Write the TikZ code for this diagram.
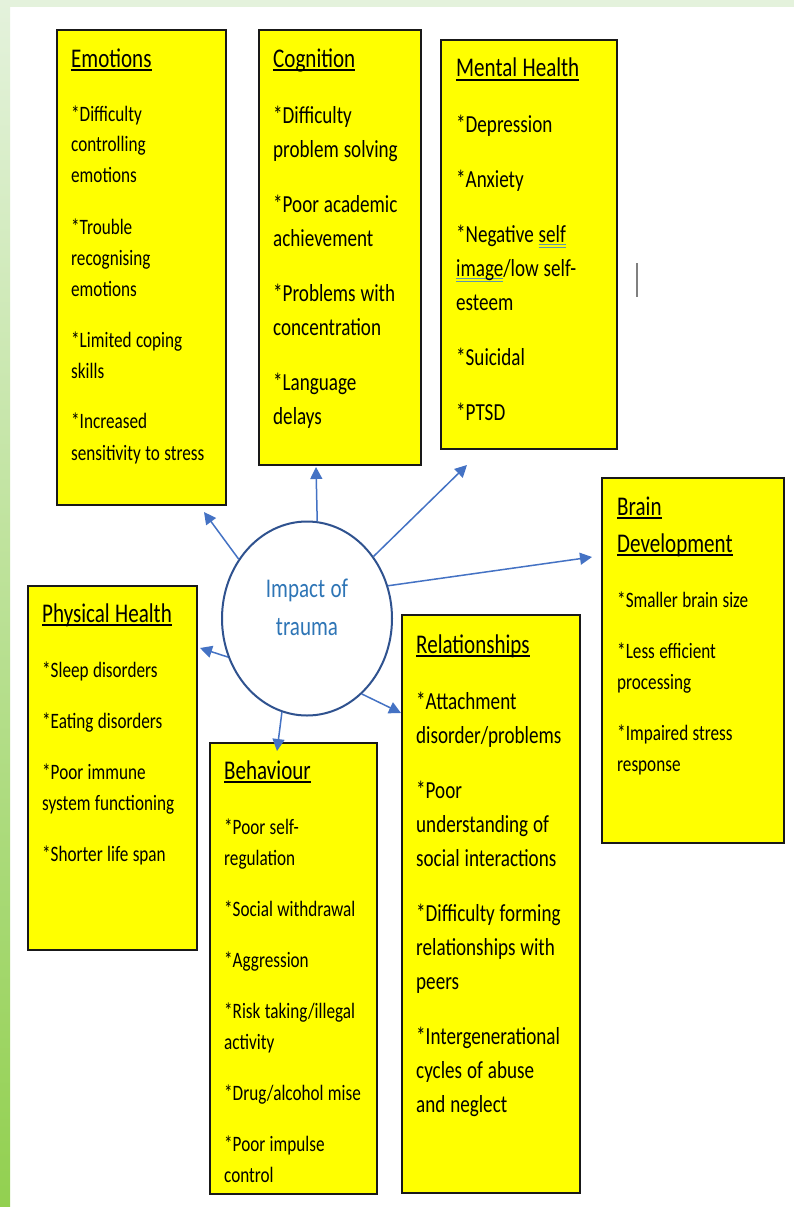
\documentclass[tikz,border=0pt]{standalone}
\usepackage{fontspec}
\setmainfont{Carlito}[FakeStretch=0.78]
\usetikzlibrary{arrows.meta,positioning,shapes.geometric}

\definecolor{boxyellow}{RGB}{255,255,0}
\definecolor{boxedge}{RGB}{25,25,25}
\definecolor{spokeblue}{RGB}{68,114,196}
\definecolor{ringblue}{RGB}{47,82,143}
\definecolor{traumablue}{RGB}{46,117,182}
\definecolor{stripTop}{RGB}{228,242,220}
\definecolor{stripBot}{RGB}{146,208,80}
\definecolor{squig}{RGB}{95,150,175}

\newcommand{\tightspace}{\spaceskip=0.2em plus 0.05em\relax}
\newcommand{\headul}[1]{\leavevmode\setbox0=\hbox{#1}\rlap{\rule[-4pt]{\wd0}{2pt}}\box0}
\newcommand{\spellmark}[1]{\leavevmode\setbox2=\hbox{#1}\rlap{\color{squig}\rule[-3pt]{\wd2}{0.9pt}}\rlap{\color{squig}\rule[-5.5pt]{\wd2}{0.9pt}}\box2}

\tikzset{
  box/.style={draw=boxedge, line width=2pt, fill=boxyellow, anchor=north west, inner sep=0pt},
  head/.style={anchor=base west, inner sep=0pt, text width=170pt, align=flush left, font=\fontsize{27}{37}\selectfont\tightspace},
  body/.style={anchor=base west, inner sep=0pt, text width=170pt, align=flush left, font=\fontsize{22}{31}\selectfont\tightspace},
  bigbody/.style={body, font=\fontsize{24.5}{34}\selectfont\tightspace},
  spoke/.style={draw=spokeblue, line width=1.5pt, -{Triangle[length=12pt,width=12pt]}},
  impact/.style={align=center, inner sep=0pt, text=traumablue, font=\fontsize{27}{38.5}\selectfont\tightspace}
}

\begin{document}
\begin{tikzpicture}[x=1pt,y=-1pt]
\useasboundingbox (0,0) rectangle (794,1207);
% page frame
\fill[white] (0,0) rectangle (794,1207);
\fill[stripTop] (0,0) rectangle (794,7);
\shade[top color=stripTop, bottom color=stripBot] (0,0) rectangle (10,1207);

% boxes
\node[box, minimum width=169pt, minimum height=475pt] (emo) at (56,29) {};
\node[box, minimum width=162pt, minimum height=435pt] (cog) at (258,29) {};
\node[box, minimum width=176pt, minimum height=409pt] (mental) at (440,39) {};
\node[box, minimum width=182pt, minimum height=365pt] (brain) at (601,477) {};
\node[box, minimum width=169pt, minimum height=364pt] (phys) at (27,585) {};
\node[box, minimum width=167pt, minimum height=451pt] (behav) at (209,742) {};
\node[box, minimum width=178pt, minimum height=578pt] (rel) at (401,614) {};

% headings
\node[head] (emo-head) at (71,67) {\headul{Emotions}};
\node[head] (cog-head) at (273,67) {\headul{Cognition}};
\node[head] (mental-head) at (456,77) {\headul{Mental Health}};
\node[head] (brain-head) at (617,515) {\headul{Brain}\\\headul{Development}};
\node[head] (phys-head) at (42,622) {\headul{Physical Health}};
\node[head] (behav-head) at (224,779) {\headul{Behaviour}};
\node[head] (rel-head) at (416,653) {\headul{Relationships}};

% lists
\node[body] (emo-txt) at (71,121) {*Difficulty\\controlling\\emotions\\[20pt]*Trouble\\recognising\\emotions\\[20pt]*Limited coping\\skills\\[20pt]*Increased\\sensitivity to stress};
\node[bigbody] (cog-txt) at (273,123) {*Difficulty\\problem solving\\[21pt]*Poor academic\\achievement\\[21pt]*Problems with\\concentration\\[21pt]*Language\\delays};
\node[bigbody] (mental-txt) at (456,132) {*Depression\\[21pt]*Anxiety\\[21pt]*Negative \spellmark{self}\\\spellmark{image}/low self-\\esteem\\[21pt]*Suicidal\\[21pt]*PTSD};
\node[body] (brain-txt) at (617,607) {*Smaller brain size\\[20pt]*Less efficient\\processing\\[20pt]*Impaired stress\\response};
\node[body] (phys-txt) at (42,677) {*Sleep disorders\\[20pt]*Eating disorders\\[20pt]*Poor immune\\system functioning\\[20pt]*Shorter life span};
\node[body] (behav-txt) at (224,834) {*Poor self-\\regulation\\[20pt]*Social withdrawal\\[20pt]*Aggression\\[20pt]*Risk taking/illegal\\activity\\[20pt]*Drug/alcohol mise\\[20pt]*Poor impulse\\control};
\node[bigbody] (rel-txt) at (416,709) {*Attachment\\disorder/problems\\[21pt]*Poor\\understanding of\\social interactions\\[21pt]*Difficulty forming\\relationships with\\peers\\[21pt]*Intergenerational\\cycles of abuse\\and neglect};

% centre
\node[ellipse, draw=ringblue, line width=2pt, fill=white, minimum width=170pt, minimum height=194pt] (trauma) at (307,618.5) {};
\node[impact] (trauma-lbl) at ([yshift=11pt]trauma.center) {Impact of\\trauma};

% arrow tips
\coordinate (emo-tip) at (204,512);
\coordinate (cog-tip) at (316,467);
\coordinate (mental-tip) at (467,465);
\coordinate (brain-tip) at (592,557);
\coordinate (phys-tip) at (200,648);
\coordinate (behav-tip) at (277,751);
\coordinate (rel-tip) at (401,713);

\draw[spoke] (trauma.139.5) -- (emo-tip);
\draw[spoke] (trauma.84.5) -- (cog-tip);
\draw[spoke] (trauma.43.5) -- (mental-tip);
\draw[spoke] (trauma.22) -- (brain-tip);
\draw[spoke] (trauma.206.5) -- (phys-tip);
\draw[spoke] (trauma.255.5) -- (behav-tip);
\draw[spoke] (trauma.306) -- (rel-tip);

% stray cursor mark
\draw[gray, line width=1.3pt] (637,263) -- (637,297);
\end{tikzpicture}
\end{document}
